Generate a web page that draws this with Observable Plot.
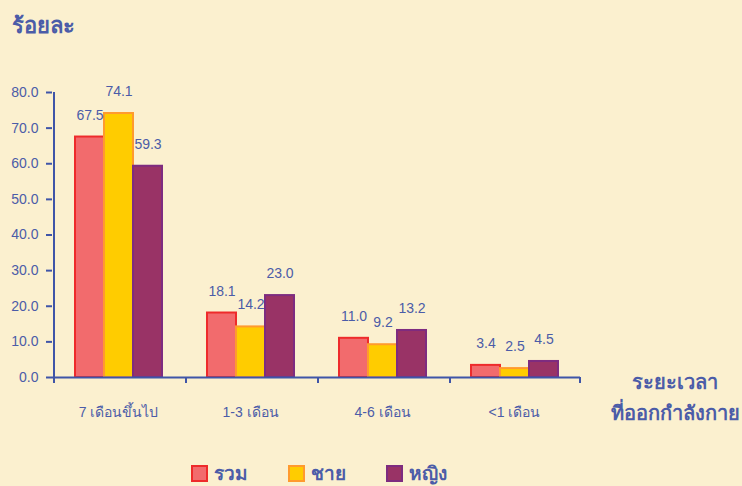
<!DOCTYPE html>
<html><head><meta charset="utf-8">
<script src="https://cdn.jsdelivr.net/npm/d3@7"></script>
<script src="https://cdn.jsdelivr.net/npm/@observablehq/plot@0.6"></script>
<style>
html,body{margin:0;padding:0;background:#FBF0CF;}
body{font-family:"Liberation Sans",Arial,sans-serif;}
#wrap{position:relative;width:742px;height:486px;overflow:hidden;background:#FBF0CF;}
#chart{position:absolute;left:0;top:0;}
#ytitle{position:absolute;left:12px;top:8px;font-size:22px;font-weight:bold;color:#4B5CA8;}
#xtitle{position:absolute;left:604px;width:142px;top:367px;text-align:center;font-size:20px;font-weight:bold;color:#4B5CA8;line-height:31px;white-space:nowrap;}
#legend{position:absolute;left:191px;top:458px;display:flex;align-items:center;font-size:19px;font-weight:bold;color:#4B5CA8;}
.item{display:flex;align-items:center;margin-right:40px;}
.sw{width:13px;height:13px;border:2px solid;margin-right:6px;}
</style></head><body>
<div id="wrap">
<div id="ytitle">ร้อยละ</div>
<div id="chart"></div>
<div id="xtitle">ระยะเวลา<br>ที่ออกกำลังกาย</div>
<div id="legend"></div>
</div>
<script>
const categories = ["7 เดือนขึ้นไป", "1-3 เดือน", "4-6 เดือน", "<1 เดือน"];
const series = ["รวม", "ชาย", "หญิง"];
const total = [67.5, 18.1, 11.0, 3.4];
const male = [74.1, 14.2, 9.2, 2.5];
const female = [59.3, 23.0, 13.2, 4.5];
const yTicks = [0, 10, 20, 30, 40, 50, 60, 70, 80];
const fills = ["#F26B6D", "#FFCC00", "#993366"];
const strokes = ["#EE2B2B", "#FF9A2E", "#7E2C80"];
const textColor = "#4B5CA8";
const axisColor = "#3F55A8";

const values = [total, male, female];
const data = categories.flatMap((c, i) => series.map((s, j) => ({category: c, series: s, value: values[j][i]})));

const barMarks = series.map((s, j) =>
  Plot.barY(data.filter(d => d.series === s), {
    fx: "category", x: "series", y: "value",
    fill: fills[j], stroke: strokes[j], strokeWidth: 2
  })
);

const plot = Plot.plot({
  width: 742, height: 440,
  marginLeft: 51, marginRight: 162, marginTop: 92, marginBottom: 63,
  style: {background: "transparent", fontFamily: "'Liberation Sans', Arial, sans-serif", fontSize: "14px", color: textColor},
  fx: {domain: categories, padding: 0, label: null},
  x: {domain: series, paddingInner: 0, paddingOuter: 0.7, axis: null},
  y: {domain: [0, 80], label: null},
  marks: [
    ...barMarks,
    Plot.text(data, {fx: "category", x: "series", y: "value", text: d => d.value.toFixed(1), dy: -22, fill: textColor, fontSize: 14}),
    Plot.ruleY([0], {stroke: axisColor, strokeWidth: 2}),
    Plot.ruleX([categories[0]], {fx: d => d, x: () => series[0], dx: -36, y1: 80, y2: 0, insetBottom: -6, stroke: axisColor, strokeWidth: 2}),
    Plot.ruleX(categories.slice(1), {fx: d => d, x: () => series[0], dx: -36, y1: 0, y2: 0, insetBottom: -6, stroke: axisColor, strokeWidth: 2}),
    Plot.ruleX([categories[categories.length - 1]], {fx: d => d, x: () => series[2], dx: 36, y1: 0, y2: 0, insetBottom: -6, stroke: axisColor, strokeWidth: 2}),
    Plot.axisY({ticks: yTicks, tickFormat: d3.format(".1f"), tickSize: 6, tickPadding: 8, stroke: axisColor, strokeWidth: 2, fill: textColor, fontSize: 14, label: null}),
    Plot.axisFx({anchor: "bottom", tickSize: 0, tickPadding: 30, fill: textColor, fontSize: 14, label: null})
  ]
});
document.getElementById("chart").appendChild(plot);

const legend = document.getElementById("legend");
series.forEach((s, j) => {
  const item = document.createElement("div");
  item.className = "item";
  const sw = document.createElement("div");
  sw.className = "sw";
  sw.style.background = fills[j];
  sw.style.borderColor = strokes[j];
  const t = document.createElement("span");
  t.textContent = s;
  item.appendChild(sw); item.appendChild(t);
  legend.appendChild(item);
});
</script>
</body></html>
